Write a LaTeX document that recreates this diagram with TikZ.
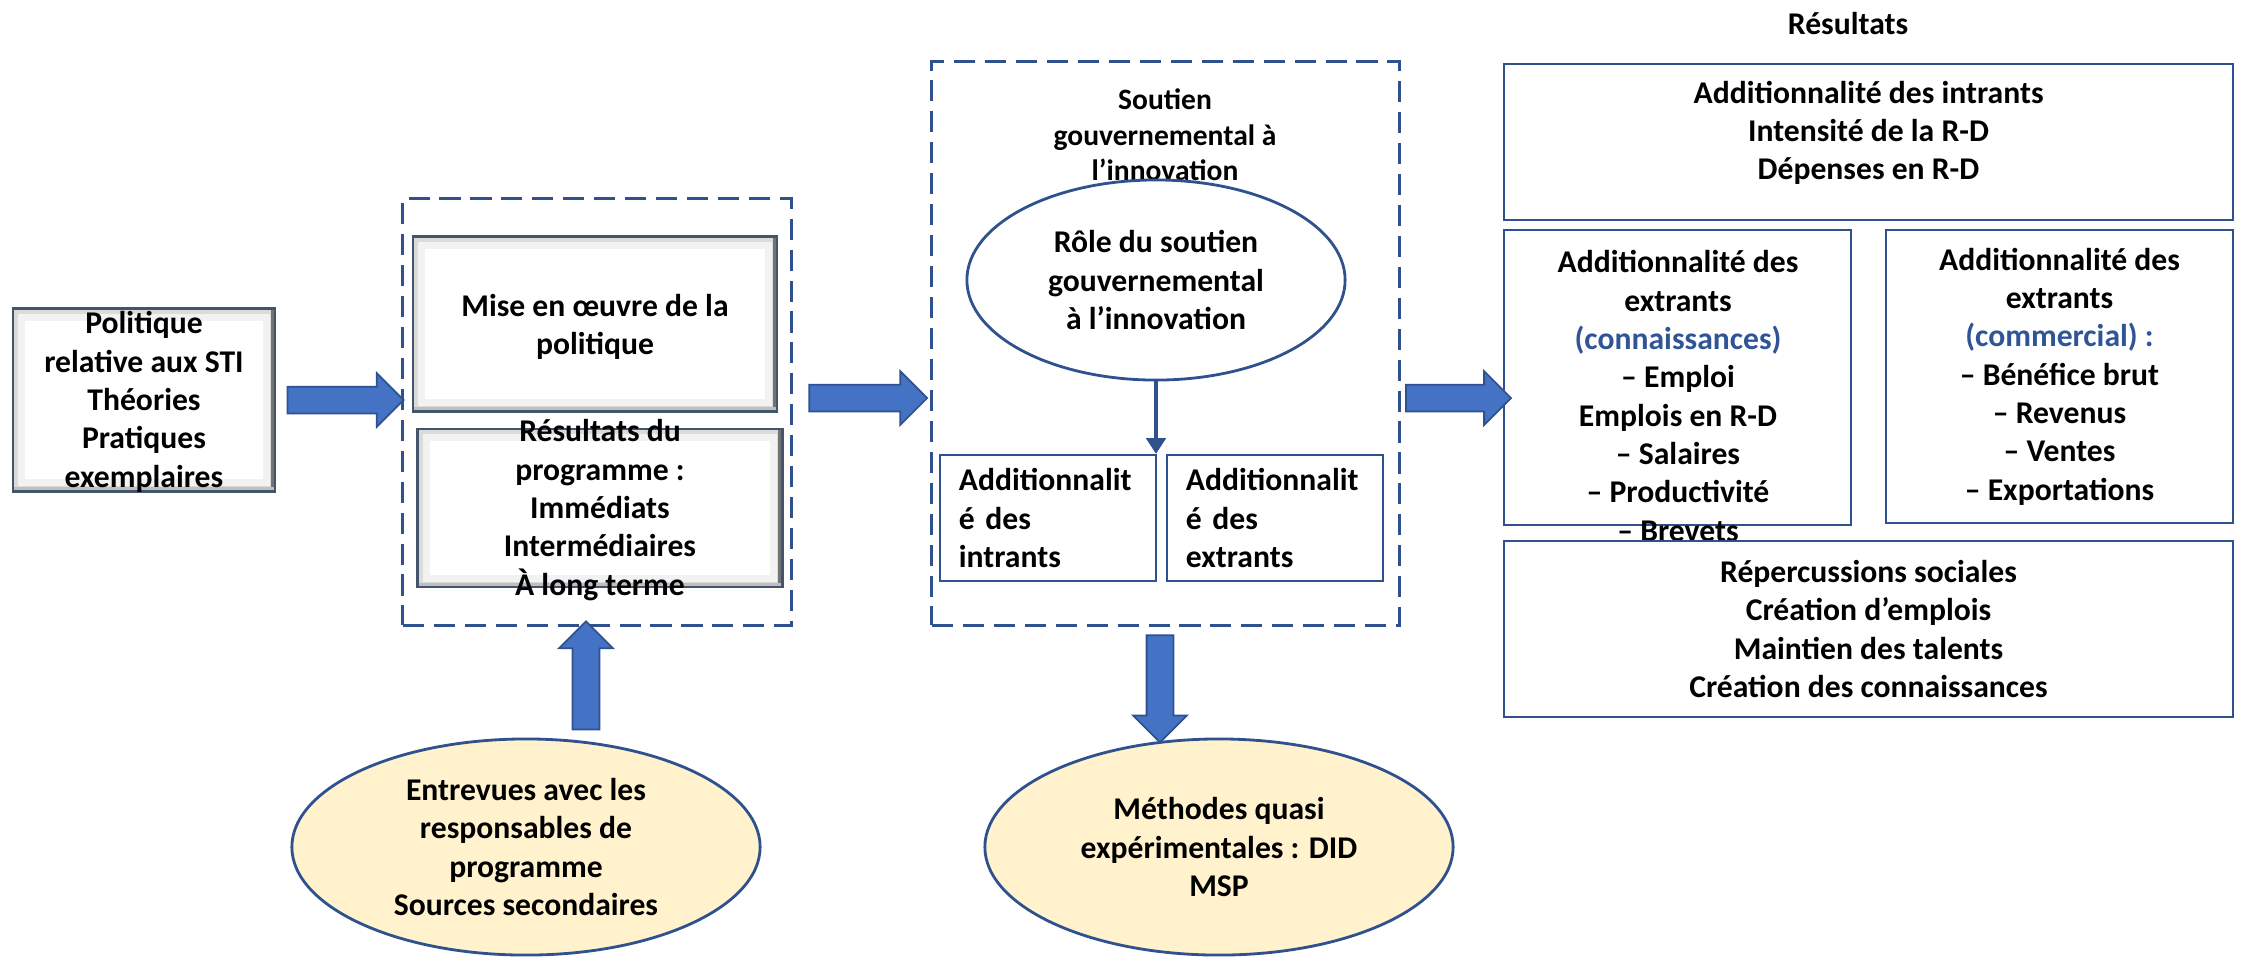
\documentclass[tikz,border=0pt]{standalone}
\usepackage{fontspec}
\setmainfont{Carlito}
\usetikzlibrary{shapes.geometric,shapes.arrows,calc,arrows.meta}
\definecolor{linecol}{HTML}{2F528F}
\definecolor{arrowfill}{HTML}{4472C4}
\definecolor{ovalfill}{HTML}{FFF2CC}
\definecolor{bluetxt}{HTML}{2F5597}
\definecolor{bevline}{HTML}{44546A}

\tikzset{
  lbl/.style={font=\fontsize{9}{10.9}\selectfont\bfseries, align=center, inner sep=0pt},
  resbox/.style={draw=linecol, line width=0.6pt, inner sep=0pt},
  dashbox/.style={draw=linecol, line width=0.9pt, dash pattern=on 6pt off 2.8pt, inner sep=0pt},
  addbox/.style={draw=linecol, line width=0.6pt, minimum width=2.16cm, minimum height=1.26cm,
    text width=1.78cm, align=left, inner xsep=0.19cm, inner ysep=0pt,
    font=\fontsize{9}{10.9}\selectfont\bfseries},
  oval/.style={ellipse, draw=linecol, line width=0.8pt, fill=ovalfill, inner sep=0pt,
    minimum width=4.68cm, minimum height=2.16cm, align=center,
    font=\fontsize{9}{10.9}\selectfont\bfseries},
  roleoval/.style={oval, fill=white, minimum width=3.78cm, minimum height=2.0cm},
  bigarrow/.style={single arrow, draw=linecol, line width=0.5pt, fill=arrowfill,
    inner xsep=0pt, inner ysep=0.125cm, minimum width=0.52cm, single arrow head extend=0.135cm},
  thinarrow/.style={draw=linecol, line width=1.1pt, -{Triangle[length=4.5pt,width=5.5pt]}},
  bevelbox/.style={draw=bevline, line width=0.7pt, fill=white, inner sep=0pt,
    path picture={
      \fill[gray!28] (path picture bounding box.south west) rectangle (path picture bounding box.north east);
      \fill[gray!10] ([shift={(1.5pt,1.5pt)}]path picture bounding box.south west) rectangle ([shift={(-1.5pt,-1.5pt)}]path picture bounding box.north east);
      \fill[white] ([shift={(3.5pt,3.5pt)}]path picture bounding box.south west) rectangle ([shift={(-3.5pt,-3.5pt)}]path picture bounding box.north east);
      \fill[black!55] ([xshift=-1.2pt]path picture bounding box.north east) rectangle (path picture bounding box.south east);
      \fill[gray!50] (path picture bounding box.south west) rectangle ([yshift=1.2pt]path picture bounding box.south east);
    }}
}

\begin{document}
\begin{tikzpicture}[x=0.01cm, y=-0.01cm]
\useasboundingbox (0,0) rectangle (2242,956);

% politique
\node[bevelbox, minimum width=2.62cm, minimum height=1.83cm] (pol) at (144,400) {};
\node[lbl] (polT) at (144,402) {Politique\\relative aux STI\\Théories\\Pratiques\\exemplaires};

% programme
\node[dashbox, minimum width=3.88cm, minimum height=4.26cm] (prog) at (597,412) {};
\node[bevelbox, minimum width=3.64cm, minimum height=1.75cm] (mise) at (595,324) {};
\node[lbl] (miseT) at (595,327) {Mise en œuvre de la\\politique};
\node[bevelbox, minimum width=3.65cm, minimum height=1.58cm] (resprog) at (600,508) {};
\node[lbl] (resprogT) at (600,510) {Résultats du\\programme :\\Immédiats\\Intermédiaires\\À long terme};

% soutien gouvernemental
\node[dashbox, minimum width=4.67cm, minimum height=5.63cm] (sout) at (1165.5,343.5) {};
\node[lbl, font=\fontsize{8.4}{10.1}\selectfont\bfseries] (soutT) at (1165,135) {Soutien\\gouvernemental à\\l’innovation};
\node[roleoval] (role) at (1156,280) {Rôle du soutien\\gouvernemental\\à l’innovation};
\node[addbox] (intr) at (1048,518) {Additionnalit\\é des\\intrants};
\node[addbox] (extr) at (1275,518) {Additionnalit\\é des\\extrants};
\draw[thinarrow] (role.south) -- (role.south |- intr.north);

% methodes
\node[oval] (entr) at (526,847) {Entrevues avec les\\responsables de\\programme\\Sources secondaires};
\node[oval] (meth) at (1219,847) {Méthodes quasi\\expérimentales : DID\\MSP};

% resultats
\node[lbl] (resT) at (1848,23) {Résultats};
\node[resbox, minimum width=7.29cm, minimum height=1.56cm] (intrres) at (1868.5,142) {};
\node[lbl] (intrresT) at (1868.5,133) {Additionnalité des intrants\\Intensité de la R-D\\Dépenses en R-D};
\node[resbox, minimum width=3.47cm, minimum height=2.95cm] (conn) at (1677.5,377.5) {};
\node[lbl] (connT) at (1678,396) {Additionnalité des\\extrants\\{\color{bluetxt}(connaissances)}\\– Emploi\\Emplois en R-D\\– Salaires\\– Productivité\\– Brevets};
\node[resbox, minimum width=3.47cm, minimum height=2.93cm] (comm) at (2059.5,376.5) {};
\node[lbl] (commT) at (2059.5,376.5) {Additionnalité des\\extrants\\{\color{bluetxt}(commercial) :}\\– Bénéfice brut\\– Revenus\\– Ventes\\– Exportations};
\node[resbox, minimum width=7.29cm, minimum height=1.76cm] (soc) at (1868.5,629) {};
\node[lbl] (socT) at (1868.5,629) {Répercussions sociales\\Création d’emplois\\Maintien des talents\\Création des connaissances};

% fleches
\coordinate (mid) at (0,398);
\coordinate (upx) at (586,0);
\coordinate (dnx) at (1160,0);
\node[bigarrow, minimum height=1.16cm] (a1) at ($(pol.east)!0.5!(pol.east -| prog.west)$) {};
\node[bigarrow, minimum height=1.18cm] (a2) at ($(prog.east |- mid)!0.5!(sout.west |- mid)$) {};
\node[bigarrow, minimum height=1.05cm] (a3) at ($(sout.east |- mid)!0.5!(conn.west |- mid)$) {};
\node[bigarrow, minimum height=1.08cm, rotate=90] (a4) at ($(prog.south -| upx)!0.5!(entr.north -| upx)$) {};
\node[bigarrow, minimum height=1.07cm, rotate=-90] (a5) at ($(sout.south -| dnx)!0.5!(meth.north -| dnx)$) {};

\end{tikzpicture}
\end{document}
